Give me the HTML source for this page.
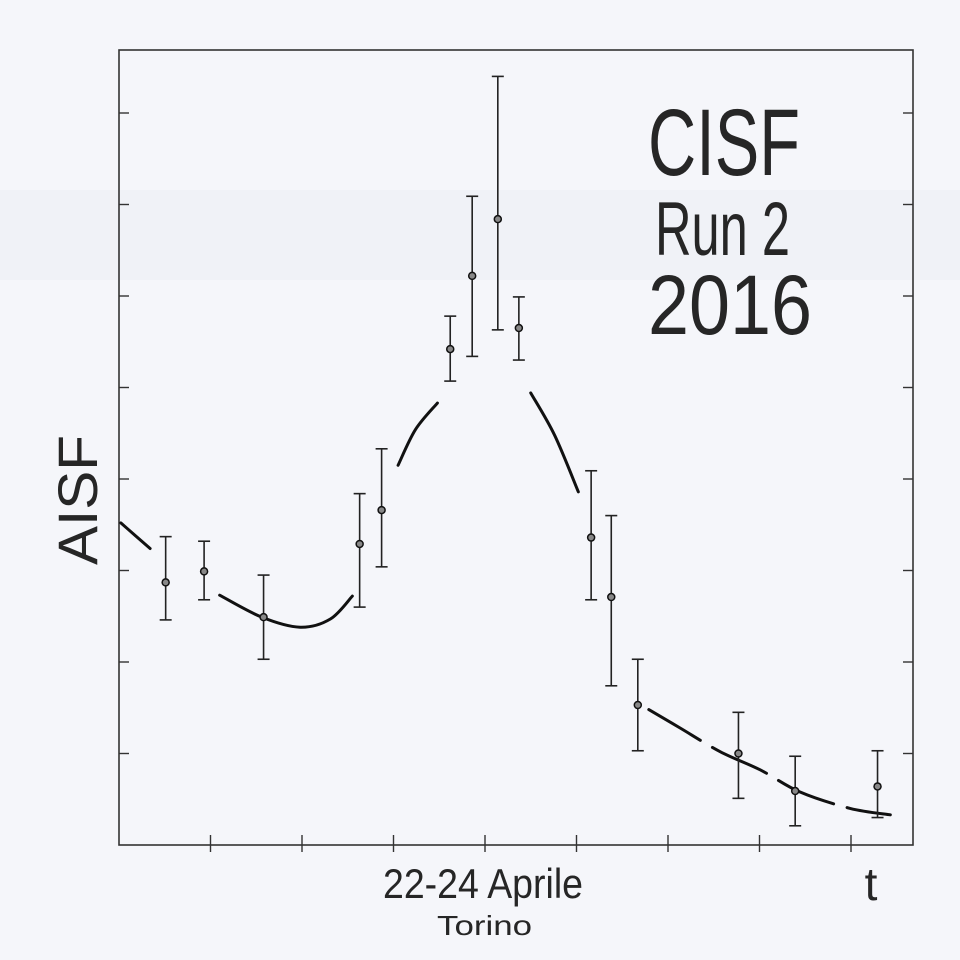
<!DOCTYPE html>
<html><head><meta charset="utf-8">
<style>
body{margin:0;background:#f4f5f9;}
svg{display:block;}
text{font-family:"Liberation Sans",sans-serif;fill:#262626;}
</style></head>
<body>
<svg id="chart" width="960" height="960" viewBox="0 0 960 960" xmlns="http://www.w3.org/2000/svg">
<rect x="0" y="0" width="960" height="960" fill="#f5f6fa"/>
<rect x="0" y="190" width="960" height="90" fill="#eceef3" opacity="0.5"/>
<rect x="119" y="50" width="794" height="795" fill="none" stroke="#333" stroke-width="1.6"/>
<g id="ticks"></g>
<g id="curves"></g>
<g id="points"></g>
<text x="648" y="175" font-size="95" textLength="152" lengthAdjust="spacingAndGlyphs">CISF</text>
<text x="655" y="255" font-size="76" textLength="135" lengthAdjust="spacingAndGlyphs">Run 2</text>
<text x="648" y="334" font-size="84" textLength="164" lengthAdjust="spacingAndGlyphs">2016</text>
<text transform="translate(97,565) rotate(-90)" font-size="56" textLength="130" lengthAdjust="spacingAndGlyphs">AISF</text>
<text x="383" y="898" font-size="42" textLength="200" lengthAdjust="spacingAndGlyphs">22-24 Aprile</text>
<text x="437" y="935" font-size="28" textLength="95" lengthAdjust="spacingAndGlyphs">Torino</text>
<text x="871" y="900" font-size="46" text-anchor="middle">t</text>
</svg>
<script>
const xs=[0.51,0.93,1.58,2.63,2.87,3.62,3.86,4.14,4.37,5.16,5.38,5.67,6.77,7.39,8.29];
const ys=[2.87,2.99,2.49,3.29,3.66,5.42,6.22,6.84,5.65,3.36,2.71,1.53,1.00,0.59,0.64];
const lows=[2.46,2.68,2.03,2.60,3.04,5.07,5.34,5.63,5.30,2.68,1.74,1.03,0.51,0.21,0.30];
const highs=[3.37,3.32,2.95,3.84,4.33,5.78,7.09,8.40,5.99,4.09,3.60,2.03,1.45,0.97,1.03];
const fitSeg1X=[0.02,0.34], fitSeg1Y=[3.52,3.24];
const fitSeg2X=[1.10,1.56,1.98,2.31,2.55], fitSeg2Y=[2.73,2.49,2.38,2.47,2.72];
const fitSeg3X=[3.05,3.24,3.48], fitSeg3Y=[4.15,4.54,4.83];
const fitSeg4X=[4.50,4.76,5.02], fitSeg4Y=[4.94,4.48,3.86];
const fitSeg5X=[5.79,6.13,6.57,7.01,7.44,7.99,8.43], fitSeg5Y=[1.48,1.28,1.02,0.82,0.58,0.40,0.33];
const tickVals=[1,2,3,4,5,6,7,8];
const NS="http://www.w3.org/2000/svg";
const sx=v=>119+91.5*v, sy=v=>845-91.5*v;
function mk(tag,attrs,parent){const e=document.createElementNS(NS,tag);for(const k in attrs)e.setAttribute(k,attrs[k]);parent.appendChild(e);return e;}
const tg=document.getElementById('ticks');
tickVals.forEach(t=>{
  let a=mk('line',{x1:119,x2:129,y1:sy(t),y2:sy(t),stroke:'#333','stroke-width':1.4},tg);
  
  
  let b=mk('line',{x1:903,x2:913,y1:sy(t),y2:sy(t),stroke:'#333','stroke-width':1.4},tg);
  
  
  let c=mk('line',{x1:sx(t),x2:sx(t),y1:835,y2:852,stroke:'#333','stroke-width':1.4},tg);
  
  
});
function smoothPath(X,Y){
  const P=X.map((x,i)=>[sx(x),sy(Y[i])]);
  let d='M'+P[0][0]+','+P[0][1];
  for(let i=0;i<P.length-1;i++){
    const p0=P[i-1]||P[i],p1=P[i],p2=P[i+1],p3=P[i+2]||P[i+1];
    const c1=[p1[0]+(p2[0]-p0[0])/6,p1[1]+(p2[1]-p0[1])/6];
    const c2=[p2[0]-(p3[0]-p1[0])/6,p2[1]-(p3[1]-p1[1])/6];
    d+=' C'+c1+' '+c2+' '+p2;
  }
  return d;
}
const cg=document.getElementById('curves');
[[fitSeg1X,fitSeg1Y,null],[fitSeg2X,fitSeg2Y,null],[fitSeg3X,fitSeg3Y,null],[fitSeg4X,fitSeg4Y,null],[fitSeg5X,fitSeg5Y,'60 14']].forEach(([X,Y,d])=>{
  const p=mk('path',{d:smoothPath(X,Y),fill:'none',stroke:'#111','stroke-width':3,'stroke-linecap':'round'},cg);
  if(d)p.setAttribute('stroke-dasharray',d);
  
  
});
const pg=document.getElementById('points');
xs.forEach((x,i)=>{
  const g=mk('g',{},pg);
  
  
  const X=sx(x);
  mk('line',{x1:X,x2:X,y1:sy(lows[i]),y2:sy(highs[i]),stroke:'#222','stroke-width':1.6},g);
  mk('line',{x1:X-6,x2:X+6,y1:sy(lows[i]),y2:sy(lows[i]),stroke:'#222','stroke-width':1.6},g);
  mk('line',{x1:X-6,x2:X+6,y1:sy(highs[i]),y2:sy(highs[i]),stroke:'#222','stroke-width':1.6},g);
  mk('circle',{cx:X,cy:sy(ys[i]),r:3.5,fill:'#888',stroke:'#111','stroke-width':1.5},g);
});
</script>
</body></html>
